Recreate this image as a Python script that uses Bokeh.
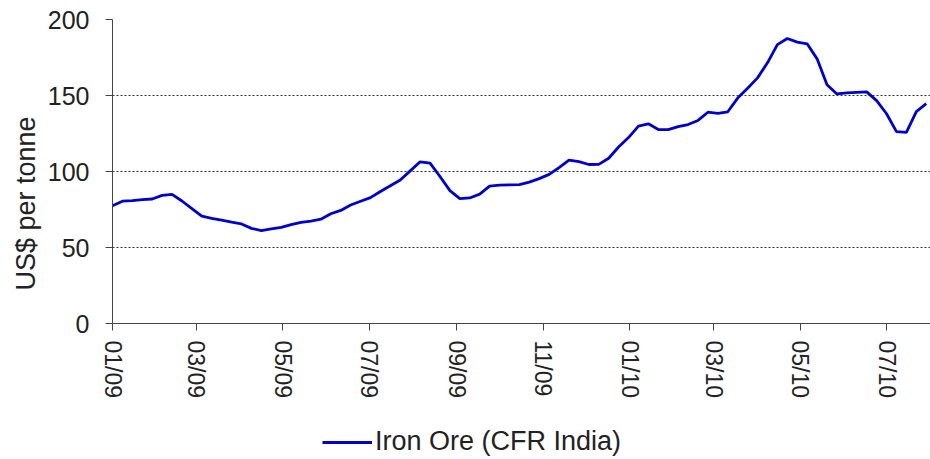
import datetime as dt
from bokeh.plotting import figure
from bokeh.layouts import column
from bokeh.models import (Range1d, FixedTicker, DatetimeTickFormatter, Title,
                          Legend, LegendItem, ColumnDataSource)
from bokeh.embed import file_html
from bokeh.resources import INLINE

# ---- data (weekly) ----
start_date = "2009-01-01"
end_date = "2010-08-01"
iron_ore = [
    77.4, 80.5, 80.9, 81.5, 81.9, 84.3, 85.0, 80.6, 75.6, 70.6,
    69.2, 68.0, 66.7, 65.5, 62.6, 61.1, 62.3, 63.3, 65.1, 66.5,
    67.4, 68.6, 72.2, 74.4, 78.0, 80.4, 82.8, 86.8, 90.6, 94.4,
    100.4, 106.4, 105.5, 96.7, 87.4, 82.1, 82.6, 85.1, 90.4, 91.0,
    91.2, 91.4, 93.0, 95.3, 98.1, 102.6, 107.5, 106.5, 104.6, 104.7,
    108.7, 116.1, 122.3, 129.8, 131.4, 127.6, 127.6, 129.5, 130.9, 133.6,
    139.0, 138.3, 139.3, 148.3, 154.8, 161.6, 171.5, 183.5, 187.5, 185.1,
    184.0, 174.1, 157.1, 151.0, 151.7, 152.1, 152.4, 146.6, 138.0, 126.2,
    125.7, 139.4, 144.6,
]
tick_dates = ["2009-01-01", "2009-03-01", "2009-05-01", "2009-07-01", "2009-09-01",
              "2009-11-01", "2010-01-01", "2010-03-01", "2010-05-01", "2010-07-01"]
y_ticks = [0, 50, 100, 150, 200]
series_name = "Iron Ore (CFR India)"
y_title = "US$ per tonne"

d0 = dt.datetime.fromisoformat(start_date)
dates = [d0 + dt.timedelta(days=7 * i) for i in range(len(iron_ore))]
src = ColumnDataSource(dict(date=dates, value=iron_ore))

def ms(d):
    return (d - dt.datetime(1970, 1, 1)).total_seconds() * 1000.0

FONT = "Liberation Sans"
TXT = "#222222"
LINE_COLOR = "#0000CC"
LINE_W = 2.8

p = figure(width=930, height=405, x_axis_type="datetime",
           output_backend="svg", toolbar_location=None,
           min_border_left=112, min_border_right=0,
           min_border_top=19, min_border_bottom=82)
p.x_range = Range1d(ms(dates[0]), ms(dt.datetime.fromisoformat(end_date)))
p.y_range = Range1d(0, 200)
p.outline_line_color = None
p.background_fill_color = "white"
p.border_fill_color = "white"

r = p.line(x="date", y="value", source=src, line_color=LINE_COLOR, line_width=LINE_W)

# x axis
xa = p.xaxis[0]
xa.ticker = FixedTicker(ticks=[ms(dt.datetime.fromisoformat(t)) for t in tick_dates])
fmt = "%m/%y"
xa.formatter = DatetimeTickFormatter(years=fmt, months=fmt, days=fmt, hours=fmt,
                                     minutes=fmt, seconds=fmt, milliseconds=fmt,
                                     microseconds=fmt, minsec=fmt, hourmin=fmt)
xa.major_label_orientation = "vertical"
xa.major_label_text_font = FONT
xa.major_label_text_font_size = "23px"
xa.major_label_text_color = TXT
xa.major_label_standoff = 10
xa.major_tick_in = 0
xa.major_tick_out = 7
xa.minor_tick_in = 0
xa.minor_tick_out = 0
xa.axis_line_color = "#444444"
xa.major_tick_line_color = "#444444"

# y axis
ya = p.yaxis[0]
ya.ticker = FixedTicker(ticks=y_ticks)
ya.major_label_text_font = FONT
ya.major_label_text_font_size = "25px"
ya.major_label_text_color = TXT
ya.major_label_standoff = 16
ya.major_tick_in = 0
ya.major_tick_out = 7
ya.minor_tick_in = 0
ya.minor_tick_out = 0
ya.axis_line_color = "#444444"
ya.major_tick_line_color = "#444444"

p.xgrid.grid_line_color = None
p.ygrid.ticker = FixedTicker(ticks=y_ticks[1:])
p.ygrid.grid_line_color = "#333333"
p.ygrid.grid_line_dash = "2 2"
p.ygrid.grid_line_width = 1

# y title (starts a little above the x axis, as in the reference)
p.add_layout(Title(text=y_title, align="left", offset=33, standoff=8,
                   text_font=FONT, text_font_size="27px", text_font_style="normal",
                   text_color=TXT), "left")

# legend strip underneath
lg = figure(width=930, height=54, output_backend="svg", toolbar_location=None,
            x_axis_location=None, y_axis_location=None,
            min_border_left=0, min_border_right=0, min_border_top=0, min_border_bottom=0,
            x_range=Range1d(ms(dates[0]), ms(dates[-1])), y_range=Range1d(0, 1))
lg.outline_line_color = None
lg.xgrid.visible = False
lg.ygrid.visible = False
lr = lg.line(x="date", y="value", source=src, line_color=LINE_COLOR, line_width=LINE_W)
legend = Legend(items=[LegendItem(label=series_name, renderers=[lr])],
                location=(210, 2), orientation="horizontal",
                label_text_font=FONT, label_text_font_size="27px",
                label_text_color=TXT, glyph_width=50, glyph_height=28,
                label_height=28, label_standoff=3, padding=0, margin=0,
                border_line_color=None, background_fill_alpha=0)
lg.add_layout(legend, "center")

page = column(p, lg, spacing=0)
open("out.html", "w").write(file_html(page, INLINE))
